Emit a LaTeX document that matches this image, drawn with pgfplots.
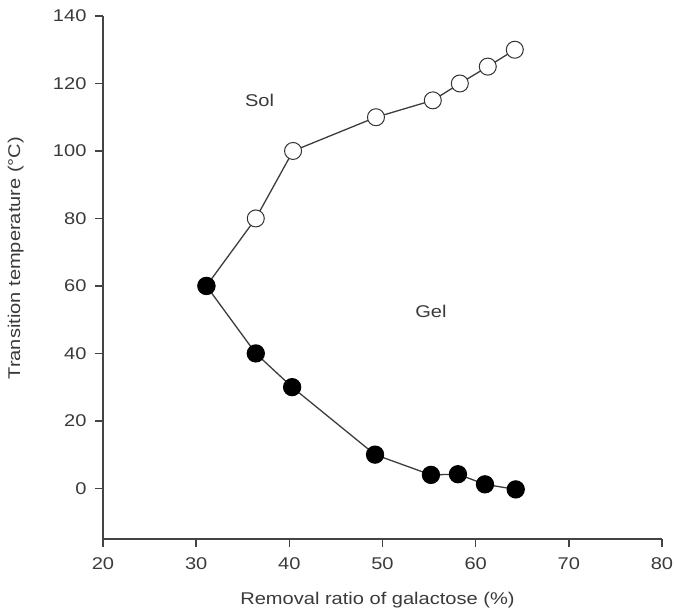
\documentclass[border=0pt]{standalone}
\usepackage{fontspec}
\setmainfont[FakeStretch=1.18]{Liberation Sans}
\usepackage{pgfplots}
\pgfplotsset{compat=1.18}
\usetikzlibrary{calc}
\definecolor{txt}{HTML}{3A3A3A}
\definecolor{ax}{HTML}{444444}
\definecolor{ln}{HTML}{3C3C3C}
\begin{document}
\begin{tikzpicture}
\begin{axis}[
  scale only axis,
  width=559pt, height=523pt,
  xmin=20, xmax=80, ymin=-15, ymax=140,
  axis lines=left,
  axis line style={-, ax, line width=1.6pt},
  xtick={20,30,...,80}, ytick={0,20,...,140},
  tick align=outside, major tick length=8pt,
  tick style={ax, line width=1.4pt},
  /pgf/number format/assume math mode=true,
  ticklabel style={font=\fontsize{17}{20}\selectfont, text=txt},
  xticklabel style={yshift=-7pt},
  yticklabel style={xshift=-5pt},
  xlabel={Removal ratio of galactose (\%)},
  ylabel={Transition temperature (°C)},
  label style={font=\fontsize{17}{20}\selectfont, text=txt},
  xlabel style={at={(axis description cs:0.491,-0.117)}, anchor=center},
  ylabel style={at={(axis description cs:-0.156,0.537)}, anchor=center},
  clip=false,
]
\addplot[ln, line width=1.3pt, mark=*, mark size=8.5pt,
  mark options={fill=white, draw=black!80, line width=1pt}]
  coordinates {(31.1,60) (36.4,80) (40.4,100) (49.3,110) (55.4,115) (58.3,120) (61.3,125) (64.2,130)};
\addplot[ln, line width=1.3pt, mark=*, mark size=8.5pt,
  mark options={fill=black, draw=black}]
  coordinates {(31.1,60) (36.4,40) (40.3,30) (49.2,10) (55.2,4) (58.1,4.2) (61.0,1.2) (64.3,-0.3)};
\node[font=\fontsize{17}{20}\selectfont, text=txt] at (axis cs:36.8,115) {Sol};
\node[font=\fontsize{17}{20}\selectfont, text=txt] at (axis cs:55.2,52.5) {Gel};
\end{axis}
\pgfresetboundingbox
\path ($(current axis.south west)+(-103pt,-76pt)$) rectangle ($(current axis.north east)+(12pt,16pt)$);
\end{tikzpicture}
\end{document}
